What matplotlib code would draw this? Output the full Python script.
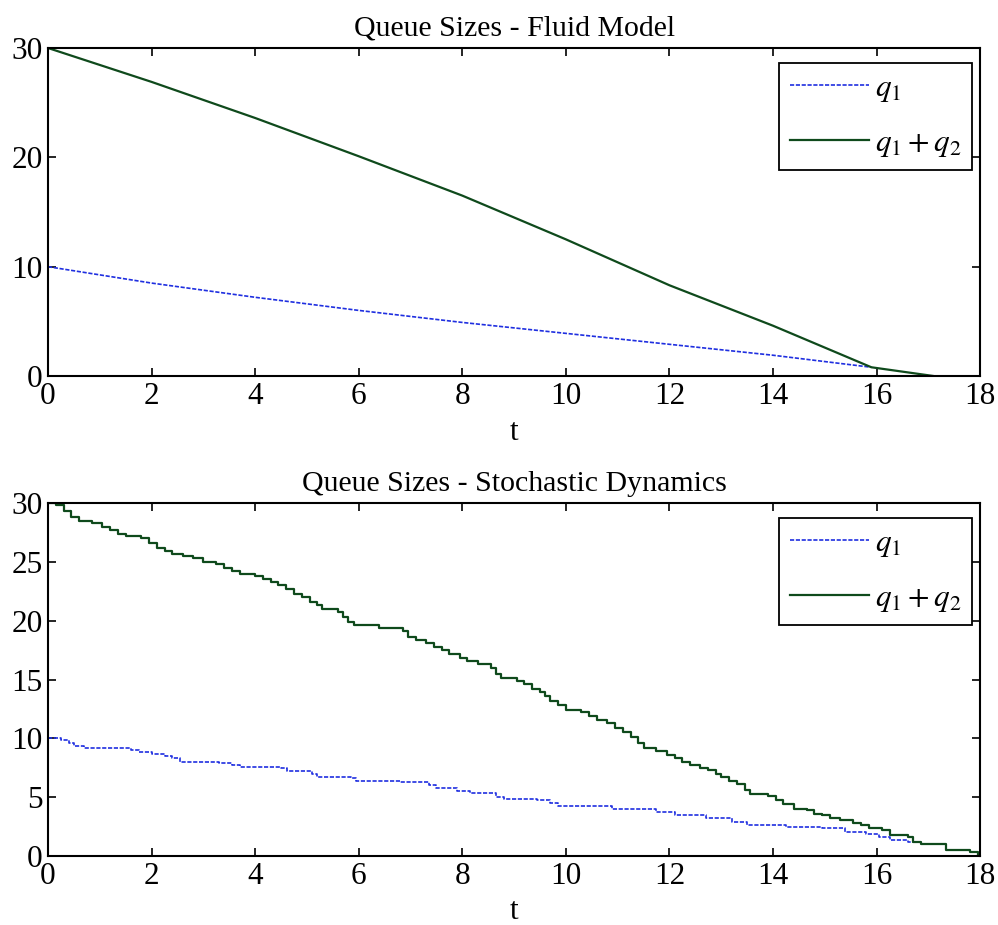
import numpy as np
import matplotlib
matplotlib.use("Agg")
import matplotlib.pyplot as plt

plt.rcParams['font.family'] = ['Liberation Serif', 'DejaVu Serif']
plt.rcParams['mathtext.fontset'] = 'stix'

# fluid model (piecewise readings)
t_fluid_tot = [0, 2, 4, 6, 8, 10, 12, 14, 15.9, 17.1]
q_fluid_tot = [30, 26.9, 23.6, 20.1, 16.5, 12.5, 8.3, 4.6, 0.8, 0.0]
t_fluid_q1 = [0, 2, 4, 6, 8, 10, 12, 14, 15.9]
q_fluid_q1 = [10, 8.5, 7.2, 6.0, 4.9, 3.9, 2.9, 1.9, 0.8]

# stochastic dynamics (step breakpoints)
t_sto_tot = [0, 0.15, 0.3, 0.45, 0.6, 0.85, 1.05, 1.2, 1.35, 1.5, 1.8, 1.95, 2.1, 2.25,
             2.4, 2.6, 2.8, 3.0, 3.25, 3.4, 3.55, 3.7, 4.0, 4.15, 4.3, 4.45, 4.6, 4.75,
             4.9, 5.05, 5.2, 5.3, 5.6, 5.7, 5.8, 5.9, 6.4, 6.85, 6.95, 7.1, 7.3, 7.45,
             7.6, 7.75, 7.95, 8.1, 8.3, 8.55, 8.65, 8.75, 9.05, 9.2, 9.35, 9.5, 9.6,
             9.7, 9.85, 10.0, 10.3, 10.45, 10.6, 10.8, 10.95, 11.1, 11.25, 11.4, 11.5,
             11.75, 11.95, 12.1, 12.25, 12.4, 12.6, 12.75, 12.9, 13.0, 13.15, 13.3,
             13.45, 13.55, 13.9, 14.05, 14.2, 14.4, 14.65, 14.8, 14.95, 15.1, 15.3,
             15.55, 15.7, 15.85, 16.1, 16.25, 16.6, 16.7, 16.85, 17.35, 17.8, 17.95]
q_sto_tot = [30.0, 29.8, 29.3, 28.8, 28.5, 28.3, 28.0, 27.7, 27.4, 27.2, 27.0, 26.6, 26.2,
             25.9, 25.7, 25.5, 25.3, 25.0, 24.8, 24.5, 24.2, 24.0, 23.8, 23.5, 23.3, 23.0,
             22.7, 22.3, 22.0, 21.6, 21.3, 21.0, 20.7, 20.3, 19.9, 19.6, 19.35, 19.1,
             18.6, 18.4, 18.1, 17.8, 17.5, 17.2, 16.8, 16.6, 16.3, 16.0, 15.5, 15.1,
             14.9, 14.6, 14.2, 13.9, 13.6, 13.2, 12.8, 12.4, 12.2, 11.9, 11.6, 11.3,
             10.9, 10.5, 10.1, 9.6, 9.2, 8.9, 8.6, 8.3, 8.0, 7.7, 7.5, 7.3, 7.0, 6.7,
             6.4, 6.1, 5.6, 5.3, 5.1, 4.8, 4.4, 4.0, 3.9, 3.6, 3.45, 3.2, 3.1, 2.8, 2.6,
             2.35, 2.2, 1.8, 1.65, 1.2, 1.0, 0.5, 0.35, 0.0]
t_sto_q1 = [0, 0.25, 0.4, 0.5, 0.7, 1.6, 1.75, 2.0, 2.25, 2.4, 2.55, 3.3, 3.55, 3.7, 4.5,
            4.62, 5.1, 5.2, 5.85, 5.95, 6.8, 7.35, 7.5, 7.9, 8.15, 8.65, 8.8, 9.45, 9.7,
            9.85, 10.9, 11.75, 12.1, 12.7, 13.2, 13.5, 14.25, 14.95, 15.4, 15.8, 16.05,
            16.25, 16.6, 16.7]
q_sto_q1 = [10.0, 9.9, 9.6, 9.35, 9.15, 9.0, 8.85, 8.7, 8.5, 8.3, 8.0, 7.9, 7.75, 7.6,
            7.45, 7.2, 7.0, 6.74, 6.6, 6.37, 6.25, 6.03, 5.75, 5.52, 5.32, 5.04, 4.84,
            4.76, 4.5, 4.28, 4.0, 3.77, 3.48, 3.2, 2.85, 2.64, 2.45, 2.35, 2.06, 1.84,
            1.64, 1.36, 1.22, 1.22]

blue = '#1f2fe0'
green = '#0f4a1c'
fs = 22.5

fig = plt.figure(figsize=(9.98, 9.25), dpi=100)
ax1 = fig.add_axes([0.0481, 0.5935, 0.934, 0.3546])
ax2 = fig.add_axes([0.0481, 0.0746, 0.934, 0.3816])

ax1.plot(t_fluid_q1, q_fluid_q1, color=blue, lw=1.2, dashes=(2.5, 1), label=r'$q_1$')
ax1.plot(t_fluid_tot, q_fluid_tot, color=green, lw=1.6, label=r'$q_1+q_2$')
ax1.set_ylim(0, 30)
ax1.set_yticks([0, 10, 20, 30])
ax1.set_title('Queue Sizes - Fluid Model', fontsize=21.5, pad=9)

ax2.plot(t_sto_q1, q_sto_q1, color=blue, lw=1.2, dashes=(2.5, 1), drawstyle='steps-post', label=r'$q_1$')
ax2.plot(t_sto_tot, q_sto_tot, color=green, lw=1.6, drawstyle='steps-post', label=r'$q_1+q_2$')
ax2.set_ylim(0, 30)
ax2.set_yticks(np.arange(0, 31, 5))
ax2.set_title('Queue Sizes - Stochastic Dynamics', fontsize=21.5, pad=9)

for ax, top in ((ax1, 0.954), (ax2, 0.9575)):
    ax.set_xlim(0, 18)
    ax.set_xticks(np.arange(0, 19, 2))
    ax.set_xlabel('t', fontsize=fs, labelpad=5)
    ax.tick_params(direction='in', top=True, right=True, length=6, width=1.2,
                   labelsize=fs, pad=4)
    for s in ax.spines.values():
        s.set_linewidth(1.5)
    leg = ax.legend(loc='upper right', bbox_to_anchor=(0.9914, top), fontsize=22.5,
                    fancybox=False, framealpha=1, edgecolor='black', handlelength=2.5,
                    labelspacing=0.8, borderaxespad=0, borderpad=0.35, handletextpad=0.2)
    leg.get_frame().set_linewidth(1.3)

fig.savefig('out.png', dpi=100)
